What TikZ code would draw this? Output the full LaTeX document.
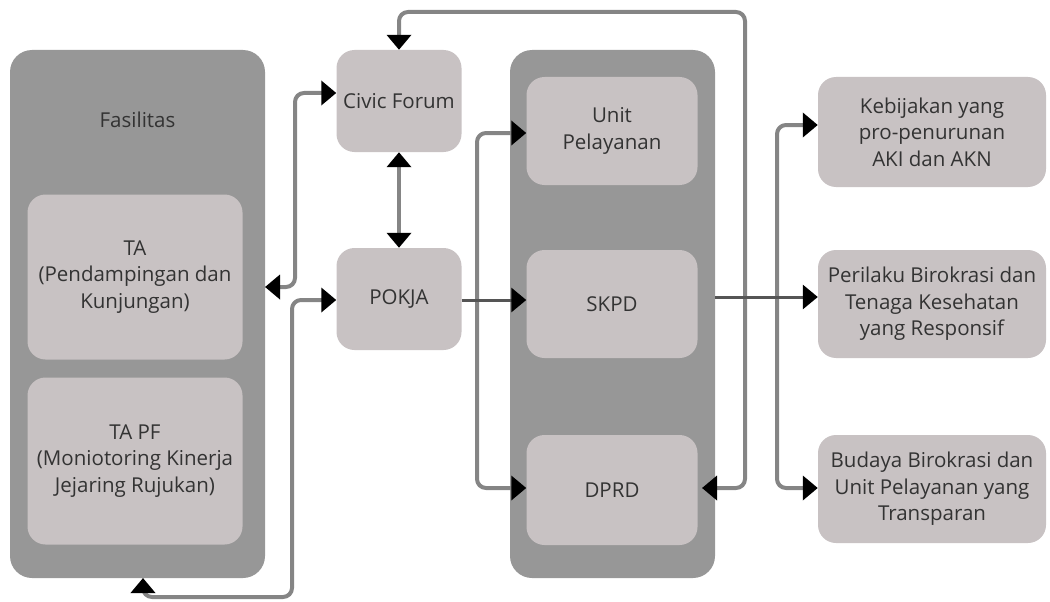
\documentclass[tikz,border=0pt]{standalone}
\usepackage{fontspec}
\setmainfont{Open Sans}
\usetikzlibrary{arrows.meta}
\definecolor{panelgray}{HTML}{979797}
\definecolor{boxgray}{HTML}{C8C2C3}
\definecolor{linegray}{HTML}{858585}
\definecolor{darkline}{HTML}{555555}
\definecolor{txt}{HTML}{333333}
\tikzset{
  panel/.style={fill=panelgray, rounded corners=22pt, minimum width=#1, inner sep=0pt},
  inbox/.style={fill=boxgray, rounded corners=18pt, inner sep=0pt, align=center, text=txt,
     font=\fontsize{20.5}{26.5}\selectfont},
  lbl/.style={text=txt, font=\fontsize{20.5}{26.5}\selectfont, align=center, inner sep=0pt},
  conn/.style={draw=linegray, line width=4pt, rounded corners=9pt, line join=round},
  dconn/.style={draw=darkline, line width=3pt},
}
\begin{document}
\begin{tikzpicture}[x=1pt,y=-1pt, >={Triangle[length=15pt,width=24pt,black]}]
\useasboundingbox (0,0) rectangle (1050,602);
% panels
\node[panel=255pt, minimum height=528pt] (fas) at (137.5,314) {};
\node[panel=205pt, minimum height=528pt] (mid) at (612.5,314) {};
\node[lbl] (fastitle) at (137.5,120) {Fasilitas};
% inner boxes
\node[inbox, minimum width=215pt, minimum height=165pt] (ta) at (135,277) {TA\\(Pendampingan dan\\Kunjungan)};
\node[inbox, minimum width=215pt, minimum height=167pt] (tapf) at (135,461) {TA PF\\(Moniotoring Kinerja\\Jejaring Rujukan)};
\node[inbox, minimum width=125pt, minimum height=102pt] (civic) at (399,101) {Civic Forum};
\node[inbox, minimum width=125pt, minimum height=102pt] (pokja) at (399,299) {POKJA};
\node[inbox, minimum width=171pt, minimum height=108pt] (unit) at (612,131) {Unit\\Pelayanan};
\node[inbox, minimum width=171pt, minimum height=108pt] (skpd) at (612,304) {SKPD};
\node[inbox, minimum width=171pt, minimum height=110pt] (dprd) at (612,490) {DPRD};
\node[inbox, minimum width=228pt, minimum height=110pt] (r1) at (932,132) {Kebijakan yang\\pro-penurunan\\AKI dan AKN};
\node[inbox, minimum width=228pt, minimum height=108pt] (r2) at (932,304) {Perilaku Birokrasi dan\\Tenaga Kesehatan\\yang Responsif};
\node[inbox, minimum width=228pt, minimum height=108pt] (r3) at (932,489) {Budaya Birokrasi dan\\Unit Pelayanan yang\\Transparan};
% coordinates
\coordinate (dprdin) at (702,488);
\coordinate (topR) at (745,12);
\coordinate (fasin) at (265,287);
\coordinate (fasbot) at (143,578);
\coordinate (lowL) at (292,597);
\coordinate (splitA) at (477,300);
\coordinate (splitB) at (777,297);
\coordinate (mout) at (715,297);
% connectors
\draw[conn, <->] (dprdin) -| (topR) -| (civic.north);
\draw[conn, <->] (fasin) -| (295,93) -- (civic.west |- 0,93);
\draw[conn, <->] (fasbot) |- (lowL) |- (pokja.west |- 0,300);
\draw[conn, <->, rounded corners=0pt] (civic.south) -- (pokja.north);
\draw[conn, ->] (splitA) |- (unit.west |- 0,133);
\draw[conn, ->] (splitA) |- (dprd.west |- 0,488);
\draw[dconn, ->] (pokja.east |- splitA) -- (skpd.west |- splitA);
\draw[conn, ->] (splitB) |- (r1.west |- 0,125);
\draw[conn, ->] (splitB) |- (r3.west |- 0,488);
\draw[dconn, ->] (mout) -- (r2.west |- mout);
\end{tikzpicture}
\end{document}
